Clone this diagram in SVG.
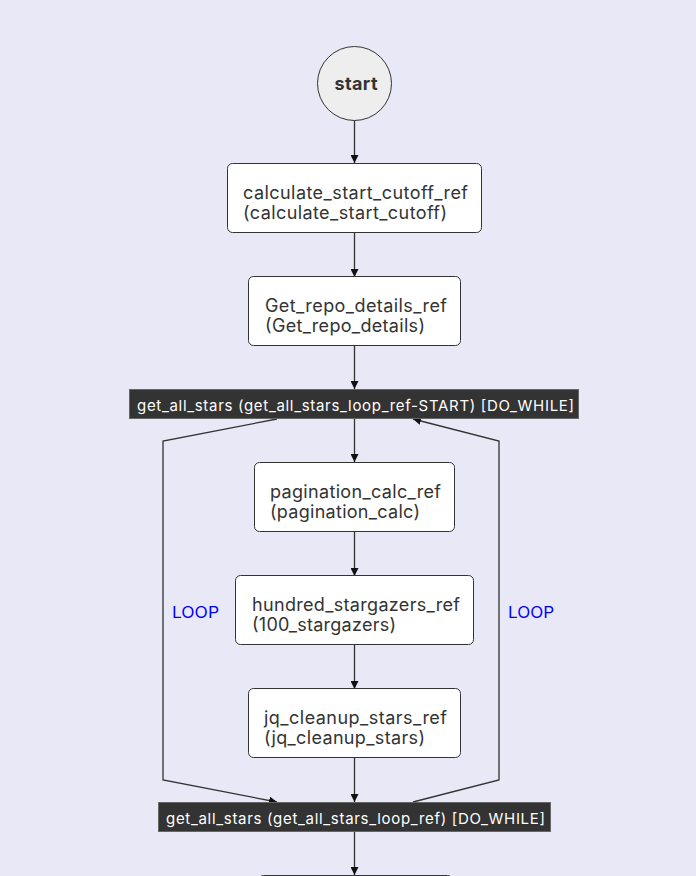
<svg xmlns="http://www.w3.org/2000/svg" width="696" height="876" viewBox="0 0 696 876">
<style>
.bg{fill:#e8e8f6}
.box{fill:#ffffff;stroke:#333333;stroke-width:1}
.bar{fill:#333333;stroke:#666666;stroke-width:1}
.t{font-family:Inter,"Liberation Sans",Arial,sans-serif;font-size:18px;fill:#333333}
.tb{font-family:Inter,"Liberation Sans",Arial,sans-serif;font-size:15px;fill:#ffffff}
.lp{font-family:Inter,"Liberation Sans",Arial,sans-serif;font-size:15.5px;fill:#0000ff}
.e{fill:none;stroke:#333333;stroke-width:1.3}
</style>
<defs>
<marker id="ah" viewBox="0 0 10 10" refX="10" refY="5" markerWidth="8" markerHeight="8" markerUnits="userSpaceOnUse" orient="auto">
<path d="M0,0 L10,5 L0,10 z" fill="#111111"/>
</marker>
</defs>
<rect class="bg" x="0" y="0" width="696" height="876"/>
<g id="connectors">
<path class="e" d="M354.5,120 L354.5,163" marker-end="url(#ah)"/>
<path class="e" d="M354.5,233 L354.5,277" marker-end="url(#ah)"/>
<path class="e" d="M354.5,346 L354.5,389" marker-end="url(#ah)"/>
<path class="e" d="M354.5,419 L354.5,462" marker-end="url(#ah)"/>
<path class="e" d="M354.5,532 L354.5,576" marker-end="url(#ah)"/>
<path class="e" d="M354.5,645 L354.5,689" marker-end="url(#ah)"/>
<path class="e" d="M354.5,758 L354.5,802" marker-end="url(#ah)"/>
<path class="e" d="M354.5,832 L354.5,875" marker-end="url(#ah)"/>
<path class="e" d="M277,419 L163,441 L163,780 L277,802" marker-end="url(#ah)"/>
<path class="e" d="M413,802 L499,780 L499,441 L413,419" marker-end="url(#ah)"/>
<text class="lp" x="172" y="618" textLength="47" lengthAdjust="spacingAndGlyphs">LOOP</text>
<text class="lp" x="508" y="618" textLength="46" lengthAdjust="spacingAndGlyphs">LOOP</text>
</g>
<g id="start">
<circle cx="354.5" cy="83.5" r="37" fill="#eeeeee" stroke="#333333" stroke-width="1"/>
<text x="334.5" y="90" textLength="43" font-family="Inter,Liberation Sans,Arial,sans-serif" font-size="18" font-weight="bold" fill="#333333">start</text>
</g>
<g id="calculate_start_cutoff_ref">
<rect class="box" x="227.5" y="163.5" width="254" height="69" rx="5"/>
<text class="t" x="243" y="198.5" textLength="225">calculate_start_cutoff_ref</text>
<text class="t" x="243" y="218.5" textLength="204">(calculate_start_cutoff)</text>
</g>
<g id="Get_repo_details_ref">
<rect class="box" x="248.5" y="276.5" width="212" height="69" rx="5"/>
<text class="t" x="265" y="312" textLength="182">Get_repo_details_ref</text>
<text class="t" x="265" y="332" textLength="160">(Get_repo_details)</text>
</g>
<g id="get_all_stars_start">
<rect class="bar" x="129.5" y="389.5" width="449" height="29"/>
<text class="tb" x="137" y="411" textLength="437">get_all_stars (get_all_stars_loop_ref-START) [DO_WHILE]</text>
</g>
<g id="pagination_calc_ref">
<rect class="box" x="254.5" y="462.5" width="200" height="69" rx="5"/>
<text class="t" x="270" y="498" textLength="171">pagination_calc_ref</text>
<text class="t" x="270" y="518" textLength="150">(pagination_calc)</text>
</g>
<g id="hundred_stargazers_ref">
<rect class="box" x="235.5" y="575.5" width="238" height="69" rx="5"/>
<text class="t" x="252" y="611" textLength="208">hundred_stargazers_ref</text>
<text class="t" x="252" y="631" textLength="144">(100_stargazers)</text>
</g>
<g id="jq_cleanup_stars_ref">
<rect class="box" x="248.5" y="688.5" width="212" height="69" rx="5"/>
<text class="t" x="264" y="724" textLength="183">jq_cleanup_stars_ref</text>
<text class="t" x="264" y="744" textLength="161">(jq_cleanup_stars)</text>
</g>
<g id="get_all_stars_end">
<rect class="bar" x="158.5" y="802.5" width="392" height="29"/>
<text class="tb" x="166" y="824" textLength="379">get_all_stars (get_all_stars_loop_ref) [DO_WHILE]</text>
</g>
<g id="next_node">
<rect class="box" x="258.5" y="875.5" width="194" height="69" rx="5" stroke="#999999"/>
</g>
</svg>
